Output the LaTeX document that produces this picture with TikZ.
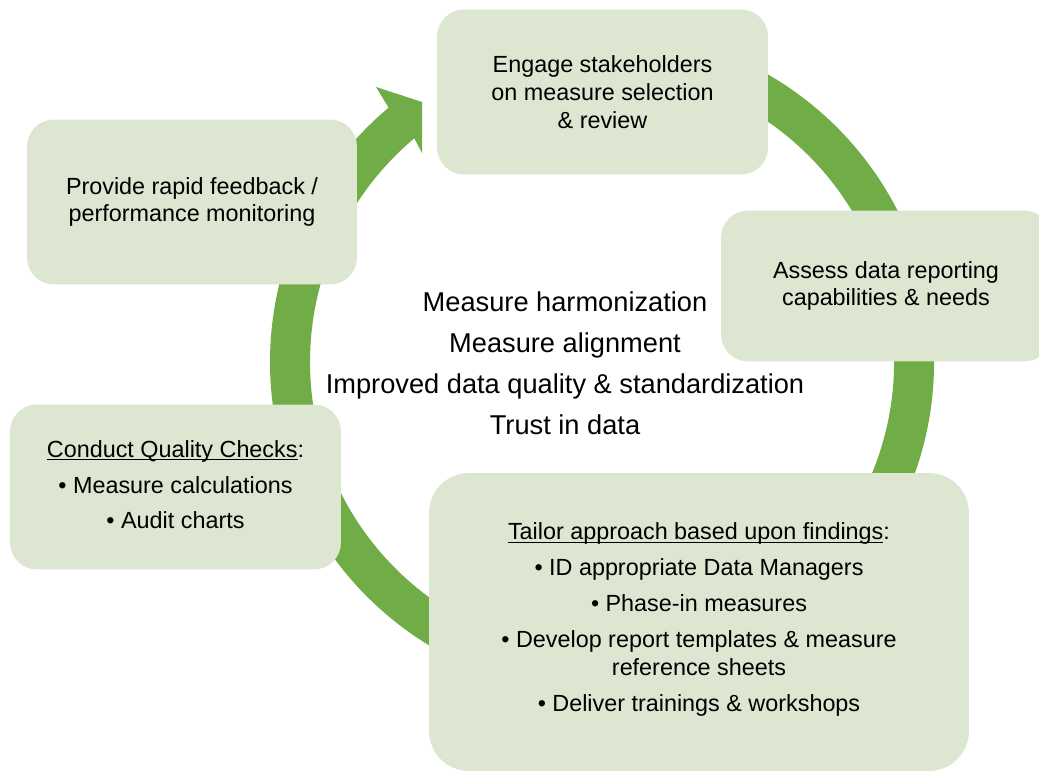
\documentclass[tikz,border=0pt]{standalone}
\usepackage{fontspec}
\setmainfont{Liberation Sans}

\definecolor{ringgreen}{RGB}{112,173,71}
\definecolor{boxgreen}{RGB}{221,230,208}
\newcommand{\headline}[1]{\underline{\smash{#1}}}

\begin{document}
\begin{tikzpicture}[x=0.02cm, y=0.02cm,
  stagebox/.style={fill=boxgreen, rounded corners=0.54cm, align=center, inner sep=0pt,
    font=\fontsize{13.3}{15.9}\selectfont},
  goaltext/.style={align=center, inner sep=0pt, font=\fontsize{15.5}{23.3}\selectfont}]

\useasboundingbox (0,0) rectangle (1039,773);

% centre of the cycle
\coordinate (O) at (602,411);

% green ring, clockwise, starting behind the top box
\draw[ringgreen, line width=0.8cm] ([shift={(O)}]100:312) arc[start angle=100, end angle=-231, radius=312];

% arrow head
\fill[ringgreen] ([shift={(O)}]130:332) -- (376,686) -- (422,671) -- (422,620) -- ([shift={(O)}]130:292) -- cycle;

% stage boxes
\node[stagebox, minimum width=6.62cm, minimum height=3.3cm] (engage) at (602.5,681)
  {Engage stakeholders\\on measure selection\\\& review};
\node[stagebox, minimum width=6.6cm, minimum height=3.3cm] (feedback) at (192,571)
  {Provide rapid feedback /\\performance monitoring};
\node[stagebox, minimum width=6.6cm, minimum height=3.02cm] (assess) at (886,487)
  {Assess data reporting\\capabilities \& needs};
\node[stagebox, minimum width=6.62cm, minimum height=3.3cm] (checks) at (175.5,286)
  {\headline{Conduct Quality Checks}:\\[0.16cm]
   • Measure calculations\\[0.16cm]
   • Audit charts};
\node[stagebox, rounded corners=0.8cm, minimum width=10.8cm, minimum height=5.96cm] (tailor) at (699,151)
  {\headline{Tailor approach based upon findings}:\\[0.16cm]
   • ID appropriate Data Managers\\[0.16cm]
   • Phase-in measures\\[0.16cm]
   • Develop report templates \& measure\\
   reference sheets\\[0.16cm]
   • Deliver trainings \& workshops};

% outcomes in the middle
\node[goaltext] (goals) at (565,410)
  {Measure harmonization\\Measure alignment\\Improved data quality \& standardization\\Trust in data};

\end{tikzpicture}
\end{document}
